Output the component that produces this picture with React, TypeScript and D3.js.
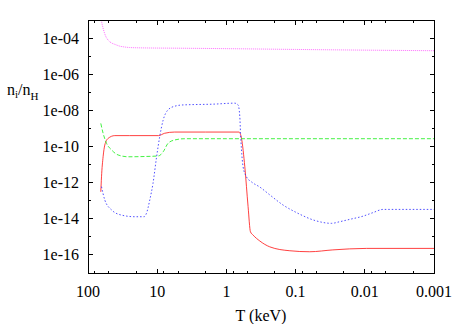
import React from 'react'
import * as d3 from 'd3'

const width = 463
const height = 324
const margin = { left: 88, right: 29, top: 20, bottom: 51 }

// temperature (keV) -> abundance n_i/n_H
const magentaT = [66, 60.5, 55.9, 51.3, 45, 41, 35, 29.4, 25, 15, 5, 1, 0.1, 0.01, 0.001]
const magentaV = [1.6e-3, 3.5e-4, 1.35e-4, 7.8e-5, 5.2e-5, 4.5e-5, 3.6e-5, 3.2e-5, 3.0e-5, 2.85e-5, 2.75e-5, 2.6e-5, 2.35e-5, 2.15e-5, 2.0e-5]

const redT = [65.3, 63.8, 60.5, 57.2, 51.3, 41, 25, 9.6, 7.8, 5.6, 2, 0.655, 0.605, 0.542, 0.486, 0.449, 0.411, 0.329, 0.236, 0.121, 0.0624, 0.029, 0.0094, 0.001]
const redV = [3.1e-13, 2.1e-12, 2.7e-11, 1.2e-10, 2.8e-10, 4.0e-10, 4.0e-10, 4.0e-10, 5.4e-10, 6.3e-10, 6.3e-10, 6.3e-10, 2.8e-10, 7.6e-12, 4.7e-14, 1.9e-15, 1.25e-15, 5.9e-16, 2.8e-16, 1.7e-16, 1.5e-16, 1.9e-16, 2.3e-16, 2.3e-16]

const greenT = [65.3, 60.5, 54, 45.7, 36.7, 26.3, 15, 9.6, 8.2, 6.97, 5.57, 4.0, 1, 0.1, 0.01, 0.001]
const greenV = [1.9e-9, 5.4e-10, 1.5e-10, 6.5e-11, 3.4e-11, 2.7e-11, 2.8e-11, 3.0e-11, 5.1e-11, 1.5e-10, 2.3e-10, 2.7e-10, 2.7e-10, 2.7e-10, 2.7e-10, 2.7e-10]

const blueT = [63.8, 57.2, 45.7, 32.8, 21.1, 15.5, 14.3, 12.8, 11.5, 10.2, 9.2, 8.2, 7.0, 5.57, 4.2, 1.56, 0.756, 0.678, 0.64, 0.625, 0.605, 0.574, 0.513, 0.434, 0.329, 0.236, 0.152, 0.097, 0.0499, 0.0303, 0.023, 0.0165, 0.0106, 0.0076, 0.00544, 0.001]
const blueV = [6e-13, 1.1e-13, 3.1e-14, 1.6e-14, 1.3e-14, 1.3e-14, 2.0e-14, 1.1e-13, 9.1e-13, 2.7e-11, 3.5e-10, 2.9e-9, 1.05e-8, 1.7e-8, 2.0e-8, 2.2e-8, 2.5e-8, 2.0e-8, 4.5e-9, 5.4e-10, 6.5e-11, 7.6e-12, 2.1e-12, 1.1e-12, 5.7e-13, 2.1e-13, 5.8e-14, 2.2e-14, 7.6e-15, 5.6e-15, 6.9e-15, 9.3e-15, 1.4e-14, 2.2e-14, 3.3e-14, 3.3e-14]

const xTickValues = [100, 10, 1, 0.1, 0.01, 0.001]
const xTickLabels = ['100', '10', '1', '0.1', '0.01', '0.001']
const yTickValues = [1e-4, 1e-6, 1e-8, 1e-10, 1e-12, 1e-14, 1e-16]
const yTickLabels = ['1e-04', '1e-06', '1e-08', '1e-10', '1e-12', '1e-14', '1e-16']
const yMinorValues = [1e-5, 1e-7, 1e-9, 1e-11, 1e-13, 1e-15]
const xMinorMults = [8, 5, 2]

const series = [
  { key: 'magenta', T: magentaT, V: magentaV, color: '#ff55ff', dash: '1,1' },
  { key: 'red', T: redT, V: redV, color: '#ff2020', dash: undefined },
  { key: 'green', T: greenT, V: greenV, color: '#22ee22', dash: '4,2' },
  { key: 'blue', T: blueT, V: blueV, color: '#3333ff', dash: '1.5,2' },
]

export default function App() {
  const x = d3.scaleLog().domain([100, 0.001]).range([margin.left, width - margin.right])
  const y = d3.scaleLog().domain([1e-17, 1e-3]).range([height - margin.bottom, margin.top])
  const x0 = margin.left, x1 = width - margin.right
  const y0 = height - margin.bottom, y1 = margin.top

  const line = d3.line<[number, number]>()
    .x(d => x(d[0]))
    .y(d => y(d[1]))
    .curve(d3.curveMonotoneX)

  const xMinor: number[] = []
  ;[10, 1, 0.1, 0.01, 0.001].forEach(dec => xMinorMults.forEach(m => xMinor.push(dec * m)))

  const font = '"Liberation Serif", "Times New Roman", Times, serif'

  return (
    <svg width={width} height={height}
      style={{ position: 'fixed', left: 0, top: 0, background: '#fff', fontFamily: font }}>
      <defs>
        <clipPath id="plot">
          <rect x={x0} y={y1} width={x1 - x0} height={y0 - y1} />
        </clipPath>
      </defs>
      <rect width={width} height={height} fill="#fff" />
      <g clipPath="url(#plot)" fill="none" strokeWidth={1}>
        {series.map(s => (
          <path key={s.key}
            d={line(s.T.map((t, i) => [t, s.V[i]] as [number, number])) || ''}
            stroke={s.color} strokeDasharray={s.dash} strokeOpacity={0.85} />
        ))}
      </g>
      <g stroke="#000" strokeWidth={1} shapeRendering="crispEdges">
        {xTickValues.map(v => (
          <g key={'xt' + v}>
            <line x1={x(v)} x2={x(v)} y1={y0} y2={y0 - 4.5} />
            <line x1={x(v)} x2={x(v)} y1={y1} y2={y1 + 4.5} />
          </g>
        ))}
        {xMinor.map(v => (
          <g key={'xm' + v}>
            <line x1={x(v)} x2={x(v)} y1={y0} y2={y0 - 2.5} />
            <line x1={x(v)} x2={x(v)} y1={y1} y2={y1 + 2.5} />
          </g>
        ))}
        {yTickValues.map(v => (
          <g key={'yt' + v}>
            <line x1={x0} x2={x0 + 4.5} y1={y(v)} y2={y(v)} />
            <line x1={x1} x2={x1 - 4.5} y1={y(v)} y2={y(v)} />
          </g>
        ))}
        {yMinorValues.map(v => (
          <g key={'ym' + v}>
            <line x1={x0} x2={x0 + 2.5} y1={y(v)} y2={y(v)} />
            <line x1={x1} x2={x1 - 2.5} y1={y(v)} y2={y(v)} />
          </g>
        ))}
        <rect x={x0} y={y1} width={x1 - x0} height={y0 - y1} fill="none" />
      </g>
      <g fontSize={16} fill="#000" style={{ fontFamily: font }}>
        {xTickValues.map((v, i) => (
          <text key={'xl' + v} x={x(v)} y={297} textAnchor="middle">{xTickLabels[i]}</text>
        ))}
        {yTickValues.map((v, i) => (
          <text key={'yl' + v} x={79} y={y(v) + 5.5} textAnchor="end">{yTickLabels[i]}</text>
        ))}
        <text x={(x0 + x1) / 2} y={321} textAnchor="middle">T (keV)</text>
        <text x={7} y={94.5}>
          n<tspan fontSize={11} dy={3}>i</tspan><tspan dy={-3}>/n</tspan><tspan fontSize={11} dy={5}>H</tspan>
        </text>
      </g>
    </svg>
  )
}
